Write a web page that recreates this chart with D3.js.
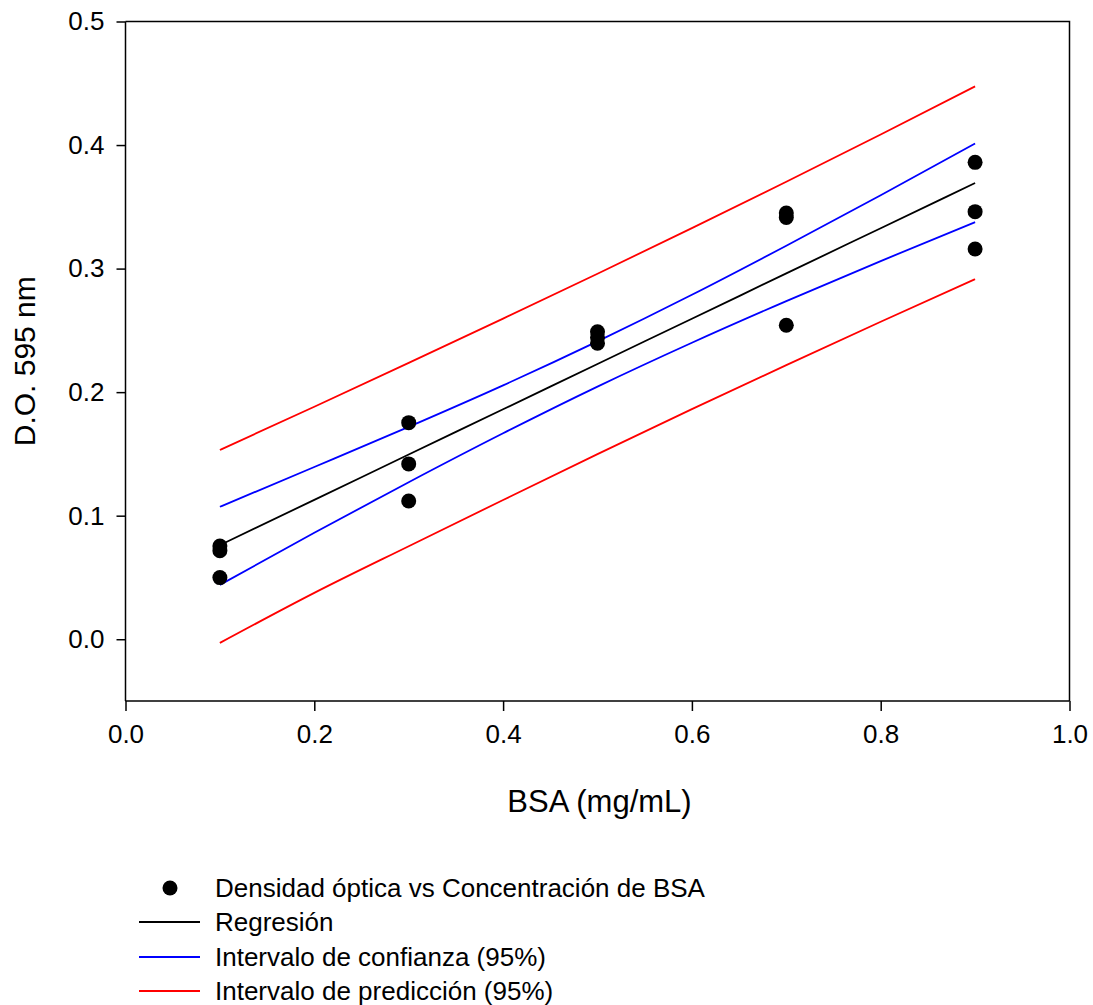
<!DOCTYPE html>
<html>
<head>
<meta charset="utf-8">
<script src="https://cdn.jsdelivr.net/npm/d3@7"></script>
<style>
  html, body { margin: 0; padding: 0; background: #fff; }
  svg { display: block; font-family: "Liberation Sans", Arial, sans-serif; }
</style>
</head>
<body>
<svg id="chart" width="1093" height="1005"></svg>
<script>
// Measured optical density at each BSA concentration (triplicates)
const concentration = [0.1, 0.1, 0.1, 0.3, 0.3, 0.3, 0.5, 0.5, 0.5, 0.7, 0.7, 0.7, 0.9, 0.9, 0.9];
const absorbance    = [0.0755, 0.0717, 0.0499, 0.1753, 0.1419, 0.1119, 0.2489, 0.2443, 0.2396, 0.3449, 0.3413, 0.2541, 0.3860, 0.3461, 0.3159];

// Fitted line and 95% bands, sampled along the concentration range
const bandX          = [0.1, 0.2, 0.3, 0.4, 0.5, 0.6, 0.7, 0.8, 0.9];
const regression     = [0.0762, 0.1128, 0.1495, 0.1861, 0.2228, 0.2594, 0.2961, 0.3327, 0.3693];
const confUpper      = [0.1072, 0.1394, 0.1719, 0.2055, 0.2411, 0.2788, 0.3185, 0.3593, 0.4012];
const confLower      = [0.0440, 0.0862, 0.1271, 0.1667, 0.2045, 0.2400, 0.2737, 0.3061, 0.3376];
const predUpper      = [0.1532, 0.1882, 0.2237, 0.2595, 0.2958, 0.3328, 0.3703, 0.4085, 0.4475];
const predLower      = [-0.0030, 0.0375, 0.0753, 0.1127, 0.1498, 0.1862, 0.2219, 0.2570, 0.2914];

// Axis ticks
const xTicks = [0.0, 0.2, 0.4, 0.6, 0.8, 1.0];
const yTicks = [0.0, 0.1, 0.2, 0.3, 0.4, 0.5];

const legendLabels = [
  "Densidad óptica vs Concentración de BSA",
  "Regresión",
  "Intervalo de confianza (95%)",
  "Intervalo de predicción (95%)"
];

const svg = d3.select("#chart");
const plotLeft = 125.5, plotRight = 1069.5, plotTop = 21.5, plotBottom = 701;

const x = d3.scaleLinear().domain([0, 1]).range([plotLeft, plotRight]);
const y = d3.scaleLinear().domain([-0.05, 0.5]).range([plotBottom, plotTop]);

// Plot frame (top and right edges)
svg.append("path")
  .attr("d", `M${plotLeft},${plotTop}H${plotRight}V${plotBottom}`)
  .attr("fill", "none").attr("stroke", "#000").attr("stroke-width", 1.5);

// Axes
const fmt = d3.format(".1f");
const xAxis = svg.append("g").attr("transform", `translate(0,${plotBottom})`)
  .call(d3.axisBottom(x).tickValues(xTicks).tickFormat(fmt).tickSizeInner(10).tickSizeOuter(0).tickPadding(14));
const yAxis = svg.append("g").attr("transform", `translate(${plotLeft},0)`)
  .call(d3.axisLeft(y).tickValues(yTicks).tickFormat(fmt).tickSizeInner(9).tickSizeOuter(0).tickPadding(12));
[xAxis, yAxis].forEach(g => {
  g.select(".domain").attr("stroke", "#000").attr("stroke-width", 1.5);
  g.selectAll(".tick line").attr("stroke", "#000").attr("stroke-width", 1.5);
  g.selectAll(".tick text").attr("fill", "#000").style("font-size", "26px")
   .style("font-family", '"Liberation Sans", Arial, sans-serif');
});
// axis lines span the full plot edges
yAxis.select(".domain").attr("d", `M0,${plotBottom}V${plotTop}`);
xAxis.select(".domain").attr("d", `M${plotLeft},0H${plotRight}`);

// Axis titles
svg.append("text").attr("x", (plotLeft + plotRight) / 2 + 2).attr("y", 812)
  .attr("text-anchor", "middle").style("font-size", "31px").text("BSA (mg/mL)");
svg.append("text")
  .attr("transform", `translate(35,${(plotTop + plotBottom) / 2}) rotate(-90)`)
  .attr("text-anchor", "middle").style("font-size", "30px").text("D.O. 595 nm");

// Bands and regression line
const line = d3.line().x((d, i) => x(bandX[i])).y(d => y(d)).curve(d3.curveMonotoneX);
const series = [
  { values: predUpper, color: "#ff0000" },
  { values: predLower, color: "#ff0000" },
  { values: confUpper, color: "#0000ff" },
  { values: confLower, color: "#0000ff" },
  { values: regression, color: "#000000" }
];
svg.append("g").selectAll("path").data(series).join("path")
  .attr("d", d => line(d.values))
  .attr("fill", "none").attr("stroke", d => d.color).attr("stroke-width", 1.8);

// Data points
svg.append("g").selectAll("circle").data(concentration).join("circle")
  .attr("cx", d => x(d)).attr("cy", (d, i) => y(absorbance[i]))
  .attr("r", 7.5).attr("fill", "#000");

// Legend
const legendY = [888, 922, 957, 991];
const legendColors = [null, "#000000", "#0000ff", "#ff0000"];
const legend = svg.append("g");
legendLabels.forEach((label, i) => {
  if (i === 0) {
    legend.append("circle").attr("cx", 170).attr("cy", legendY[i]).attr("r", 7.5).attr("fill", "#000");
  } else {
    legend.append("line").attr("x1", 139).attr("x2", 200)
      .attr("y1", legendY[i]).attr("y2", legendY[i])
      .attr("stroke", legendColors[i]).attr("stroke-width", 1.8);
  }
  legend.append("text").attr("x", 215).attr("y", legendY[i]).attr("dy", "0.36em")
    .style("font-size", "26px").text(label);
});
</script>
</body>
</html>
